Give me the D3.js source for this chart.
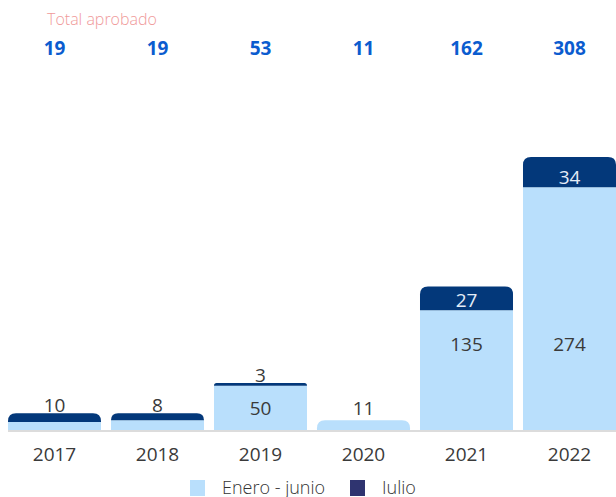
<!DOCTYPE html>
<html>
<head>
<meta charset="utf-8">
<script src="https://cdn.jsdelivr.net/npm/d3@7"></script>
<style>
  body { margin: 0; background: #fff; }
  text { font-family: "Open Sans", sans-serif; }
</style>
</head>
<body>
<div id="chart"></div>
<script>
// data
var years = ["2017", "2018", "2019", "2020", "2021", "2022"];
var eneroJunio = [9, 11, 50, 11, 135, 274];
var julio = [10, 8, 3, 0, 27, 34];
var totales = [19, 19, 53, 11, 162, 308];

var width = 616, height = 497;
var baseline = 430;

var svg = d3.select("#chart")
    .append("svg")
    .attr("width", width)
    .attr("height", height);

var x = d3.scaleBand()
    .domain(years)
    .range([-2, 626])
    .paddingInner(0.097)
    .paddingOuter(0.097);

var y = d3.scaleLinear()
    .domain([0, 308])
    .range([baseline, 157]);

// rows for each year
var rows = years.map(function (d, i) {
    return { year: d, a: eneroJunio[i], b: julio[i], total: totales[i] };
});

// path with rounded top corners only
function topRounded(x0, y0, w, h, r) {
    r = Math.min(r, h, w / 2);
    return "M" + x0 + "," + (y0 + h) +
        "V" + (y0 + r) +
        "Q" + x0 + "," + y0 + " " + (x0 + r) + "," + y0 +
        "H" + (x0 + w - r) +
        "Q" + (x0 + w) + "," + y0 + " " + (x0 + w) + "," + (y0 + r) +
        "V" + (y0 + h) + "Z";
}

// baseline
svg.append("line")
    .attr("x1", x(years[0]))
    .attr("x2", width)
    .attr("y1", baseline + 1)
    .attr("y2", baseline + 1)
    .style("stroke", "#dcdcdc")
    .style("stroke-width", 2);

var bars = svg.selectAll(".bar")
    .data(rows)
    .enter().append("g")
    .attr("class", "bar");

// enero - junio (bottom)
bars.append("path")
    .attr("d", function (d) {
        var top = y(d.a), h = baseline - top;
        if (d.b > 0) {
            return "M" + x(d.year) + "," + top + "h" + x.bandwidth() + "v" + h + "h" + (-x.bandwidth()) + "Z";
        }
        return topRounded(x(d.year), top, x.bandwidth(), h, 8);
    })
    .style("fill", "#b9dffc");

// julio (top)
bars.filter(function (d) { return d.b > 0; })
    .append("path")
    .attr("d", function (d) {
        var top = y(d.a + d.b), h = y(d.a) - top;
        return topRounded(x(d.year), top, x.bandwidth(), h, 8);
    })
    .style("fill", "#03387a");

var labelSize = "19px";

// value labels
bars.each(function (d) {
    var g = d3.select(this);
    var cx = x(d.year) + x.bandwidth() / 2;
    var hA = baseline - y(d.a);
    var hB = y(d.a) - y(d.a + d.b);
    if (hB > 18) {
        g.append("text")
            .attr("x", cx)
            .attr("y", y(d.a) - 3)
            .attr("text-anchor", "middle")
            .style("font-size", labelSize)
            .style("fill", "#e4ecf7")
            .text(d.b);
    } else if (d.b > 0) {
        // small julio segment: label above the stack
        g.append("text")
            .attr("x", cx)
            .attr("y", y(d.a + d.b) - 1)
            .attr("text-anchor", "middle")
            .style("font-size", labelSize)
            .style("fill", "#3a3a3a")
            .text(d.b);
    }
    if (hA > 30) {
        var ly = hA > 60 ? baseline - 79 : baseline - hA / 2 + 7;
        g.append("text")
            .attr("x", cx)
            .attr("y", ly)
            .attr("text-anchor", "middle")
            .style("font-size", labelSize)
            .style("fill", "#3a3a3a")
            .text(d.a);
    } else if (d.b === 0) {
        g.append("text")
            .attr("x", cx)
            .attr("y", y(d.a) - 5)
            .attr("text-anchor", "middle")
            .style("font-size", labelSize)
            .style("fill", "#3a3a3a")
            .text(d.a);
    }
});

// x axis labels
var xAxis = svg.append("g")
    .attr("transform", "translate(0," + (baseline + 2) + ")")
    .call(d3.axisBottom(x).tickSize(0).tickPadding(16));
xAxis.select(".domain").remove();
xAxis.selectAll("text")
    .style("font-family", "'Open Sans', sans-serif")
    .style("font-size", "19px")
    .style("fill", "#3a3a3a");

// totals on top
svg.append("text")
    .attr("x", 47)
    .attr("y", 25)
    .style("font-size", "16px")
    .style("font-weight", 300)
    .style("fill", "#f09a9a")
    .text("Total aprobado");

svg.selectAll(".total")
    .data(rows)
    .enter().append("text")
    .attr("class", "total")
    .attr("x", function (d) { return x(d.year) + x.bandwidth() / 2; })
    .attr("y", 55)
    .attr("text-anchor", "middle")
    .style("font-size", "19px")
    .style("font-weight", 700)
    .style("fill", "#0b5ccf")
    .text(function (d) { return d.total; });

// legend
var legendItems = [
    { label: "Enero - junio", color: "#b9dffc", x: 190 },
    { label: "Iulio", color: "#2f3470", x: 350 }
];
var legend = svg.selectAll(".legend")
    .data(legendItems)
    .enter().append("g")
    .attr("class", "legend")
    .attr("transform", function (d) { return "translate(" + d.x + ",480)"; });
legend.append("rect")
    .attr("width", 15)
    .attr("height", 16)
    .style("fill", function (d) { return d.color; });
legend.append("text")
    .attr("x", 32)
    .attr("y", 14)
    .style("font-size", "18px")
    .style("font-weight", 300)
    .style("fill", "#333")
    .text(function (d) { return d.label; });
</script>
</body>
</html>
